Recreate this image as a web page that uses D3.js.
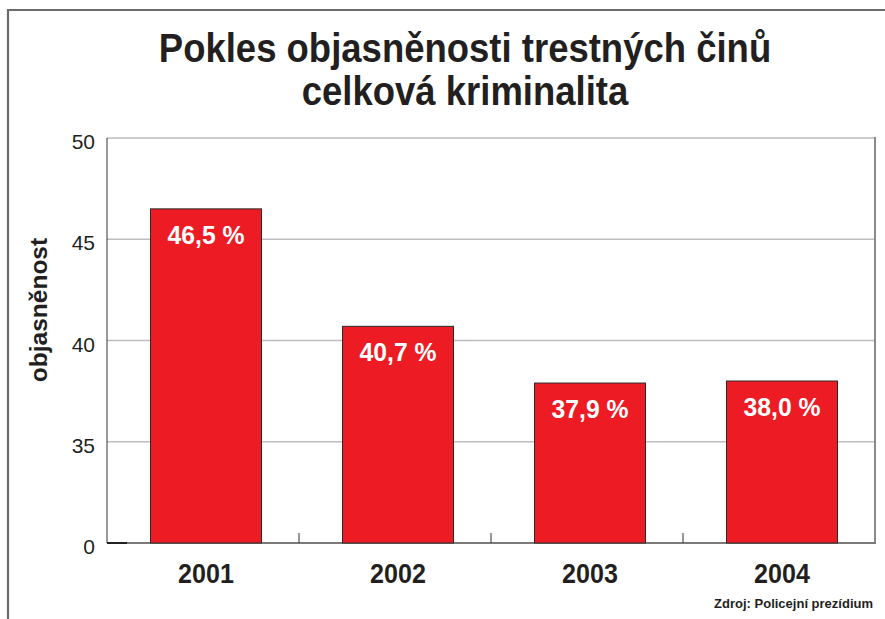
<!DOCTYPE html>
<html>
<head>
<meta charset="utf-8">
<script src="https://cdn.jsdelivr.net/npm/d3@7/dist/d3.min.js"></script>
<style>
  html, body { margin: 0; padding: 0; background: #fff; }
  svg { display: block; }
</style>
</head>
<body>
<svg id="chart" width="885" height="619"></svg>
<script>
// Clearance of crimes, total criminality, by year
const years = ["2001", "2002", "2003", "2004"];
const clearance = [46.5, 40.7, 37.9, 38.0];
const valueLabels = ["46,5 %", "40,7 %", "37,9 %", "38,0 %"];
// The value axis is cut: its lowest line stands for 30 but is labelled 0
const tickValues = [30, 35, 40, 45, 50];
const tickLabels = ["0", "35", "40", "45", "50"];

const titleLines = ["Pokles objasněnosti trestných činů", "celková kriminalita"];
const yTitle = "objasněnost";
const source = "Zdroj: Policejní prezídium";

const svg = d3.select("#chart");
const plot = { left: 107, right: 875, top: 138, bottom: 543 };

const x = d3.scaleBand().domain(years).range([plot.left, plot.right]).paddingInner(0).paddingOuter(0);
const y = d3.scaleLinear().domain([30, 50]).range([plot.bottom, plot.top]);
const barW = 111;
const barShift = 3;

// a condensed look: squeeze glyphs to a given share of their width
function squeeze(sel, ratio) {
  sel.each(function () {
    const w = this.getComputedTextLength();
    d3.select(this).attr("textLength", w * ratio).attr("lengthAdjust", "spacingAndGlyphs");
  });
}

// outer frame
svg.append("path")
  .attr("d", `M8,619 V10 H885`)
  .attr("fill", "none").attr("stroke", "#6b6b6b").attr("stroke-width", 2.2);

// title
svg.append("g").selectAll("text")
  .data(titleLines)
  .join("text")
  .attr("x", 465).attr("y", (d, i) => 62 + i * 43)
  .attr("text-anchor", "middle")
  .attr("font-family", "'Liberation Sans', Arial, sans-serif")
  .attr("font-weight", "bold").attr("font-size", 41).attr("fill", "#231f20")
  .text(d => d)
  .call(squeeze, 0.89);

// horizontal grid lines
svg.append("g").selectAll("line")
  .data(tickValues.slice(1))
  .join("line")
  .attr("x1", plot.left).attr("x2", plot.right)
  .attr("y1", d => y(d)).attr("y2", d => y(d))
  .attr("stroke", "#bdbdbd").attr("stroke-width", 1.5);

// plot borders
svg.append("line").attr("x1", plot.left).attr("x2", plot.left)
  .attr("y1", plot.top).attr("y2", plot.bottom)
  .attr("stroke", "#333").attr("stroke-width", 1);
svg.append("line").attr("x1", plot.right).attr("x2", plot.right)
  .attr("y1", plot.top - 1).attr("y2", plot.bottom + 1)
  .attr("stroke", "#8a8a8a").attr("stroke-width", 2);

// y axis labels
const yAxis = d3.axisLeft(y)
  .tickValues(tickValues)
  .tickFormat((d, i) => tickLabels[i])
  .tickSize(0).tickPadding(12);
const ya = svg.append("g").attr("transform", `translate(${plot.left},0)`).call(yAxis);
ya.select(".domain").remove();
ya.selectAll("text")
  .attr("font-family", "'Liberation Sans', Arial, sans-serif")
  .attr("font-size", 21).attr("fill", "#231f20")
  .attr("dy", "0.5em");

// bottom axis with category ticks between bars
const bottom = svg.append("g");
bottom.append("line").attr("x1", plot.left).attr("x2", plot.right + 1)
  .attr("y1", plot.bottom).attr("y2", plot.bottom)
  .attr("stroke", "#7a7a7a").attr("stroke-width", 2);
bottom.append("line").attr("x1", plot.left).attr("x2", plot.left + 20)
  .attr("y1", plot.bottom).attr("y2", plot.bottom)
  .attr("stroke", "#222").attr("stroke-width", 2);
bottom.selectAll("line.sep")
  .data(years.slice(1))
  .join("line").attr("class", "sep")
  .attr("x1", d => x(d)).attr("x2", d => x(d))
  .attr("y1", plot.bottom).attr("y2", plot.bottom - 10)
  .attr("stroke", "#333").attr("stroke-width", 1);

// bars
svg.append("g").selectAll("rect")
  .data(clearance)
  .join("rect")
  .attr("x", (d, i) => x(years[i]) + (x.bandwidth() - barW) / 2 + barShift)
  .attr("y", d => y(d))
  .attr("width", barW)
  .attr("height", d => y(30) - y(d))
  .attr("fill", "#ed1c24")
  .attr("stroke", "#2a2a2a").attr("stroke-width", 1);

// value labels inside bars
svg.append("g").selectAll("text")
  .data(clearance)
  .join("text")
  .attr("x", (d, i) => x(years[i]) + x.bandwidth() / 2 + barShift)
  .attr("y", d => y(d) + 35)
  .attr("text-anchor", "middle")
  .attr("font-family", "'Liberation Sans', Arial, sans-serif")
  .attr("font-weight", "bold").attr("font-size", 26).attr("fill", "#fff")
  .text((d, i) => valueLabels[i])
  .call(squeeze, 0.95);

// category labels
svg.append("g").selectAll("text")
  .data(years)
  .join("text")
  .attr("x", d => x(d) + x.bandwidth() / 2 + barShift)
  .attr("y", 583)
  .attr("text-anchor", "middle")
  .attr("font-family", "'Liberation Sans', Arial, sans-serif")
  .attr("font-weight", "bold").attr("font-size", 27).attr("fill", "#231f20")
  .text(d => d)
  .call(squeeze, 0.93);

// y axis title
svg.append("text")
  .attr("transform", "translate(47,310) rotate(-90)")
  .attr("text-anchor", "middle")
  .attr("font-family", "'Liberation Sans', Arial, sans-serif")
  .attr("font-weight", "bold").attr("font-size", 24.5).attr("fill", "#231f20")
  .text(yTitle);

// source note
svg.append("text")
  .attr("x", 873).attr("y", 608)
  .attr("text-anchor", "end")
  .attr("font-family", "'Liberation Sans', Arial, sans-serif")
  .attr("font-weight", "bold").attr("font-size", 13).attr("fill", "#231f20")
  .text(source);
</script>
</body>
</html>
